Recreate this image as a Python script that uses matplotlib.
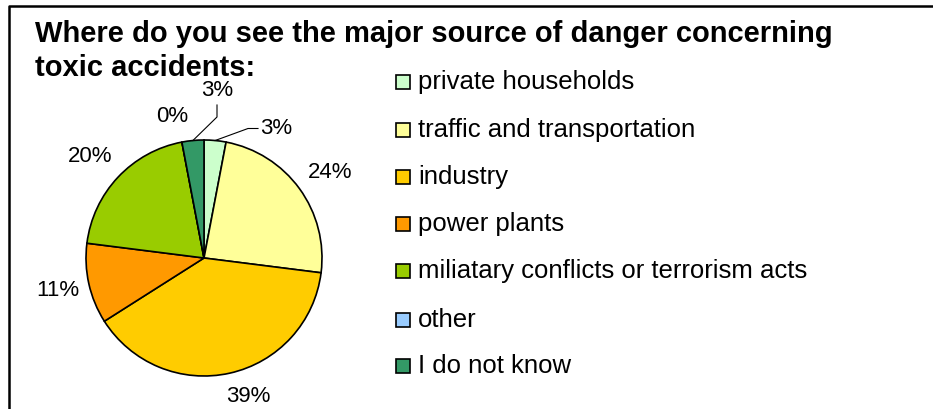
import numpy as np
import matplotlib.pyplot as plt

plt.rcParams['font.family'] = ['Liberation Sans', 'DejaVu Sans']

# 数据
categories = ['private households', 'traffic and transportation', 'industry',
              'power plants', 'miliatary conflicts or terrorism acts', 'other',
              'I do not know']
values = [3, 24, 39, 11, 20, 0, 3]
pct_labels = ['3%', '24%', '39%', '11%', '20%', '0%', '3%']
colors = ['#CCFFCC', '#FFFF99', '#FFCC00', '#FF9900', '#99CC00', '#99CCFF', '#339966']

W, H = 933, 409
fig = plt.figure(figsize=(W / 100, H / 100), dpi=100)
ax = fig.add_axes([0, 0, 1, 1])

# 饼图（y轴反向，所以逆时针参数对应视觉上的顺时针）
cx, cy, r = 204, 258, 118
wedges, _ = ax.pie(values, colors=colors, startangle=-90, counterclock=True,
                   center=(cx, cy), radius=r, frame=True,
                   wedgeprops=dict(edgecolor='black', linewidth=1.2))
ax.set_xlim(0, W)
ax.set_ylim(H, 0)
ax.set_aspect('equal')
ax.axis('off')

# 外框（只看得到左边和上边）
ax.plot([8.5, 8.5, W + 5], [H + 5, 6, 6], color='black', lw=1.8, solid_capstyle='butt')

# 标题
ax.text(35, 42, 'Where do you see the major source of danger concerning',
        fontsize=21, fontweight='bold', ha='left', va='baseline')
ax.text(35, 76, 'toxic accidents:',
        fontsize=21, fontweight='bold', ha='left', va='baseline')

# 百分比标签
label_pos = [(276, 129), (330, 173), (248, 396), (58, 291), (90, 157), (172, 117), (217, 91)]
for (x, y), t in zip(label_pos, pct_labels):
    ax.text(x, y, t, fontsize=16, ha='center', va='center')

# 引导线（两个3%）
def edge_point(w):
    a = np.deg2rad((w.theta1 + w.theta2) / 2)
    return cx + r * np.cos(a), cy + r * np.sin(a)

ex, ey = edge_point(wedges[0])
ax.plot([ex, 248, 258], [ey, 128.5, 128.5], color='black', lw=0.8)
ex, ey = edge_point(wedges[6])
ax.plot([ex, 217, 217], [ey, 117, 105], color='black', lw=0.8)

# 图例
leg_y = [82, 130, 177, 224, 271, 320, 366]
for y, c, name in zip(leg_y, colors, categories):
    ax.add_patch(plt.Rectangle((396, y - 7), 13.5, 13.5, facecolor=c, edgecolor='black', lw=1.2))
    ax.text(418, y, name, fontsize=18.5, ha='left', va='center')

fig.savefig('out.png', dpi=100)
